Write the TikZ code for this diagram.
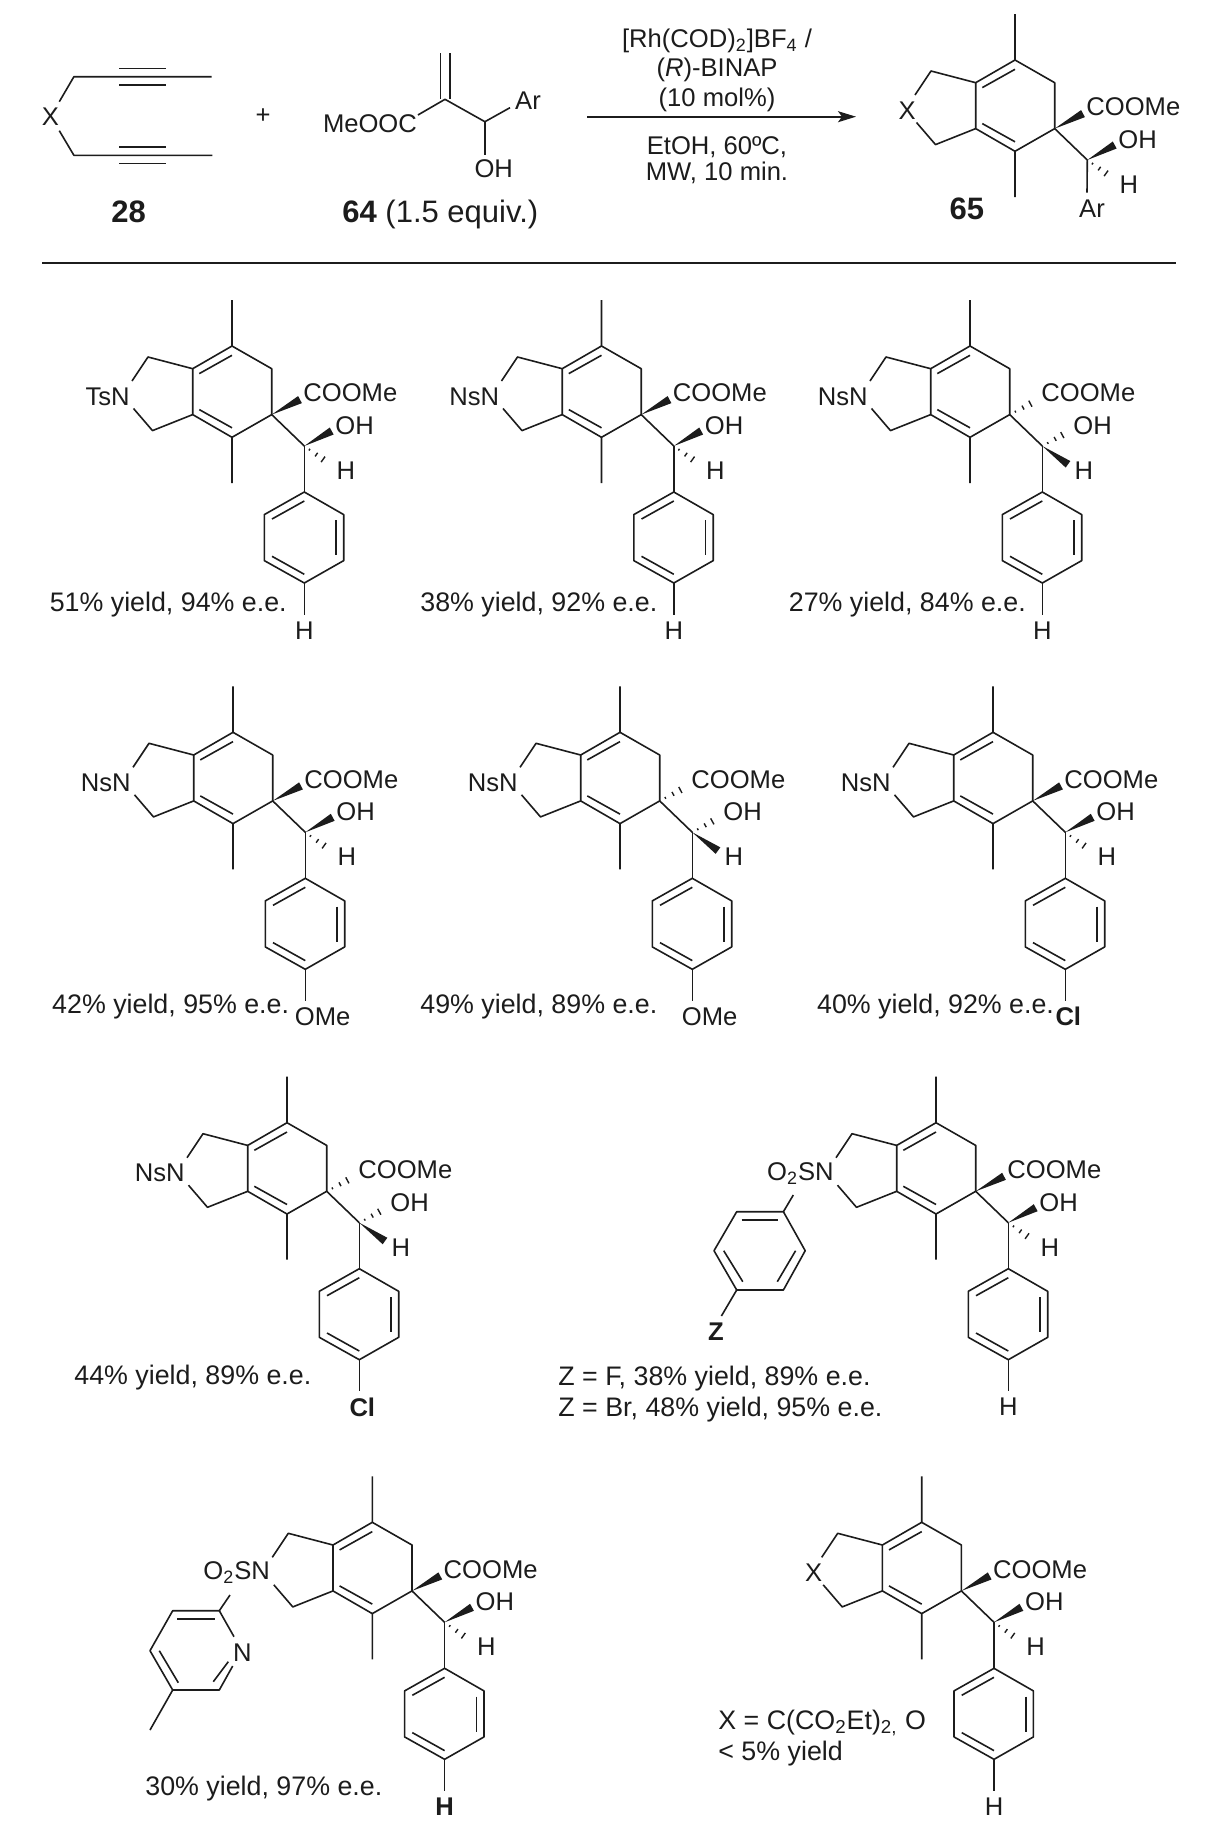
\documentclass[tikz,border=0pt]{standalone}
\usepackage{fontspec}
\setmainfont{Liberation Sans}
\usetikzlibrary{calc,arrows.meta}

\definecolor{inkc}{HTML}{1C1C1C}
\tikzset{
  bond/.style={draw=inkc, line width=0.8pt, line join=round},
  atomlabel/.style={inner sep=0pt, text=inkc, font=\fontsize{12.8}{15}\selectfont},
  yieldlabel/.style={inner sep=0pt, text=inkc, anchor=base west, font=\fontsize{13.4}{16}\selectfont},
  bigno/.style={inner sep=0pt, text=inkc, font=\fontsize{15.5}{18}\selectfont},
}

\newcommand{\wedgebond}[2]{\fill[inkc] (#1) -- ($(#2)!2pt!90:(#1)$) -- ($(#2)!2pt!-90:(#1)$) -- cycle;}
\newcommand{\hashbond}[2]{\foreach \t/\w in {0.2/0.5,0.47/1.1,0.73/1.7,1/2.4}
  {\draw[inkc, line width=0.7pt] ($(#1)!\t!(#2)!\w pt!90:(#2)$) -- ($(#1)!\t!(#2)!\w pt!-90:(#2)$);}}

% name, x, y, ring label, bond to COOMe and OH, bond to H
\newcommand{\bicycle}[6]{
  \begin{scope}[shift={(#2,#3)}]
    \coordinate (top) at (0,0);
    \coordinate (me1) at (0,-46);
    \coordinate (c5) at (39.7,22.7);
    \coordinate (cq) at (39.7,68.6);
    \coordinate (bot) at (0,91.3);
    \coordinate (me2) at (0,137);
    \coordinate (fb) at (-39.3,68.6);
    \coordinate (ft) at (-39.3,22.7);
    \coordinate (ch2t) at (-84,11);
    \coordinate (ch2b) at (-79.5,84.6);
    \coordinate (nt) at (-100,35);
    \coordinate (nb) at (-98.5,62.5);
    \coordinate (ch) at (72.3,100);
    \coordinate (est) at (68,53.6);
    \coordinate (oh) at (99.7,85);
    \coordinate (hh) at (98,118.3);
    \draw[bond] (me1) -- (top) -- (c5) -- (cq) -- (bot) -- (me2);
    \draw[bond] (bot) -- (fb) -- (ft) -- (top);
    \draw[bond] (nt) -- (ch2t) -- (ft);
    \draw[bond] (nb) -- (ch2b) -- (fb);
    \draw[bond] (-32.7,27.6) -- (0,9.3);
    \draw[bond] (-32.7,63.6) -- (0,81.8);
    \draw[bond] (cq) -- (ch);
    #5{cq}{est}
    #5{ch}{oh}
    #6{ch}{hh}
    \node[atomlabel, anchor=east] (#1-n) at (-102,50.5) {#4};
    \node[atomlabel, anchor=west] (#1-est) at (71,47) {COOMe};
    \node[atomlabel, anchor=west] (#1-oh) at (103,79.5) {OH};
    \node[atomlabel, anchor=west] (#1-h) at (104.3,124.6) {H};
  \end{scope}
}

% name, x, y, text under the ring, shift of that text
\newcommand{\arylring}[5]{
  \begin{scope}[shift={(#2,#3)}]
    \coordinate (pt) at (72.3,146);
    \coordinate (prt) at (111.7,168.6);
    \coordinate (prb) at (111.7,214.6);
    \coordinate (pb) at (72.3,237);
    \coordinate (plb) at (32.3,214.6);
    \coordinate (plt) at (32.3,168.6);
    \coordinate (ptail) at (72.3,268.6);
    \draw[bond] (pt) -- (prt) -- (prb) -- (pb) -- (plb) -- (plt) -- cycle;
    \draw[bond] (72.3,100) -- (pt);
    \draw[bond] (40,173) -- (72.3,155);
    \draw[bond] (104,174.3) -- (104,209.3);
    \draw[bond] (40,210.3) -- (72.3,228.3);
    \draw[bond] (pb) -- (ptail);
    \node[atomlabel] (#1-tail) at ($(72.3,284.3)+(#5,0)$) {#4};
  \end{scope}
}

\begin{document}
\begin{tikzpicture}[x=0.5pt, y=-0.5pt]
  \useasboundingbox (0,0) rectangle (1205,1837);
  \fill[white] (0,0) rectangle (1205,1837);

  % diyne 28
  \node[atomlabel] (x28) at (50.5,117) {X};
  \coordinate (d1) at (73.9,76.7);
  \coordinate (d2) at (73.9,155.3);
  \draw[bond] (59.3,101.7) -- (d1) -- (211.6,76.7);
  \draw[bond] (59.3,130.7) -- (d2) -- (212.4,155.3);
  \draw[bond] (119,68.3) -- (166,68.3);
  \draw[bond] (119,84.7) -- (166,84.7);
  \draw[bond] (119,147) -- (166,147);
  \draw[bond] (119,163.3) -- (166,163.3);
  \node[bigno] (n28) at (128.6,211.7) {\textbf{28}};
  \node[atomlabel] (plus) at (263,116) {+};

  % acrylate 64
  \node[atomlabel, anchor=west] (meooc) at (322.6,123.3) {MeOOC};
  \node[atomlabel] (ar64) at (528,101) {Ar};
  \node[atomlabel] (oh64) at (493.7,169) {OH};
  \coordinate (c64) at (445,99.3);
  \coordinate (d64) at (484.9,121.7);
  \draw[bond] (417.9,115) -- (c64) -- (d64) -- (510,107.7);
  \draw[bond] (d64) -- (484.9,155);
  \draw[bond] (440.5,53.3) -- (440.5,99.3);
  \draw[bond] (449.7,53.3) -- (449.7,99.3);
  \node[bigno, anchor=base west] (n64) at (342,222.7) {\textbf{64} (1.5 equiv.)};

  % conditions
  \coordinate (arr1) at (587,116.7);
  \coordinate (arr2) at (856,116.7);
  \draw[bond, -{Stealth[length=9pt, width=5.5pt, inset=2pt]}] (arr1) -- (arr2);
  \node[atomlabel] (cond1) at (717,41) {[Rh(COD)\textsubscript{2}]BF\textsubscript{4} /};
  \node[atomlabel] (cond2) at (717,70) {(\textit{R})-BINAP};
  \node[atomlabel] (cond3) at (717,100) {(10 mol\%)};
  \node[atomlabel] (cond4) at (717,146.7) {EtOH, 60ºC,};
  \node[atomlabel] (cond5) at (717,173) {MW, 10 min.};

  % product 65
  \bicycle{p65}{1015}{60}{X\kern-1.5pt}{\wedgebond}{\hashbond}
  \draw[bond] (ch) -- (1087,192.7);
  \node[atomlabel] (ar65) at (1092,208.3) {Ar};
  \node[bigno] (n65) at (966.8,209) {\textbf{65}};

  \coordinate (sep1) at (42,263);
  \coordinate (sep2) at (1176,263);
  \draw[bond] (sep1) -- (sep2);

  % first row
  \bicycle{s1}{232}{346}{TsN}{\wedgebond}{\hashbond}
  \arylring{s1}{232}{346}{H}{0}
  \node[yieldlabel] (y1) at (49.4,611) {51\% yield, 94\% e.e.};
  \bicycle{s2}{601.5}{346}{NsN}{\wedgebond}{\hashbond}
  \arylring{s2}{601.5}{346}{H}{0}
  \node[yieldlabel] (y2) at (420,611) {38\% yield, 92\% e.e.};
  \bicycle{s3}{970}{346}{NsN}{\hashbond}{\wedgebond}
  \arylring{s3}{970}{346}{H}{0}
  \node[yieldlabel] (y3) at (788.5,611) {27\% yield, 84\% e.e.};

  % second row
  \bicycle{s4}{233}{732.3}{NsN}{\wedgebond}{\hashbond}
  \arylring{s4}{233}{732.3}{OMe}{17.4}
  \node[yieldlabel] (y4) at (51.8,1013.5) {42\% yield, 95\% e.e.};
  \bicycle{s5}{620}{732.3}{NsN}{\hashbond}{\wedgebond}
  \arylring{s5}{620}{732.3}{OMe}{17.4}
  \node[yieldlabel] (y5) at (420,1013.5) {49\% yield, 89\% e.e.};
  \bicycle{s6}{993}{732.3}{NsN}{\wedgebond}{\hashbond}
  \arylring{s6}{993}{732.3}{\textbf{Cl}}{3}
  \node[yieldlabel] (y6) at (816.7,1013.5) {40\% yield, 92\% e.e.};

  % third row
  \bicycle{s7}{287}{1122.7}{NsN}{\hashbond}{\wedgebond}
  \arylring{s7}{287}{1122.7}{\textbf{Cl}}{3}
  \node[yieldlabel] (y7) at (74,1384) {44\% yield, 89\% e.e.};

  \bicycle{s8}{936}{1122.7}{O\textsubscript{2}SN}{\wedgebond}{\hashbond}
  \arylring{s8}{936}{1122.7}{H}{0}
  \coordinate (z1) at (783.4,1211.7);
  \coordinate (z2) at (736.7,1211.7);
  \coordinate (z3) at (714,1250.7);
  \coordinate (z4) at (736.7,1290);
  \coordinate (z5) at (783.4,1290);
  \coordinate (z6) at (805.2,1250.7);
  \draw[bond] (z1) -- (z2) -- (z3) -- (z4) -- (z5) -- (z6) -- cycle;
  \draw[bond] (z1) -- (793.3,1195);
  \draw[bond] (z4) -- (721.4,1316);
  \draw[bond] (741.7,1220) -- (778.4,1220);
  \draw[bond] (723.7,1250.7) -- (742.8,1281.7);
  \draw[bond] (795.6,1250.7) -- (777.3,1281.7);
  \node[atomlabel] (zz) at (716,1332) {\textbf{Z}};
  \node[yieldlabel] (y8a) at (558,1385) {Z = F, 38\% yield, 89\% e.e.};
  \node[yieldlabel] (y8b) at (558,1416) {Z = Br, 48\% yield, 95\% e.e.};

  % fourth row
  \bicycle{s9}{372.3}{1522.3}{O\textsubscript{2}SN}{\wedgebond}{\hashbond}
  \arylring{s9}{372.3}{1522.3}{\textbf{H}}{0}
  \coordinate (py1) at (219.3,1610.7);
  \coordinate (py2) at (172.7,1610.7);
  \coordinate (py3) at (150,1650.7);
  \coordinate (py4) at (172.7,1690);
  \coordinate (py5) at (219.3,1690);
  \node[atomlabel] (pyn) at (242.3,1652.7) {N};
  \draw[bond] (234,1636.7) -- (py1) -- (py2) -- (py3) -- (py4) -- (py5) -- (232.7,1666);
  \draw[bond] (py1) -- (230,1595);
  \draw[bond] (py4) -- (150,1730);
  \draw[bond] (177.3,1619) -- (215,1619);
  \draw[bond] (159.3,1650.7) -- (178.3,1682.7);
  \draw[bond] (213.3,1681.7) -- (228.3,1661.7);
  \node[yieldlabel] (y9) at (145,1795) {30\% yield, 97\% e.e.};

  \bicycle{s10}{921.7}{1522.3}{X\kern-1.5pt}{\wedgebond}{\hashbond}
  \arylring{s10}{921.7}{1522.3}{H}{0}
  \node[yieldlabel] (y10a) at (718,1729) {X = C(CO\textsubscript{2}Et)\textsubscript{2,} O};
  \node[yieldlabel] (y10b) at (718,1760) {< 5\% yield};
\end{tikzpicture}
\end{document}
